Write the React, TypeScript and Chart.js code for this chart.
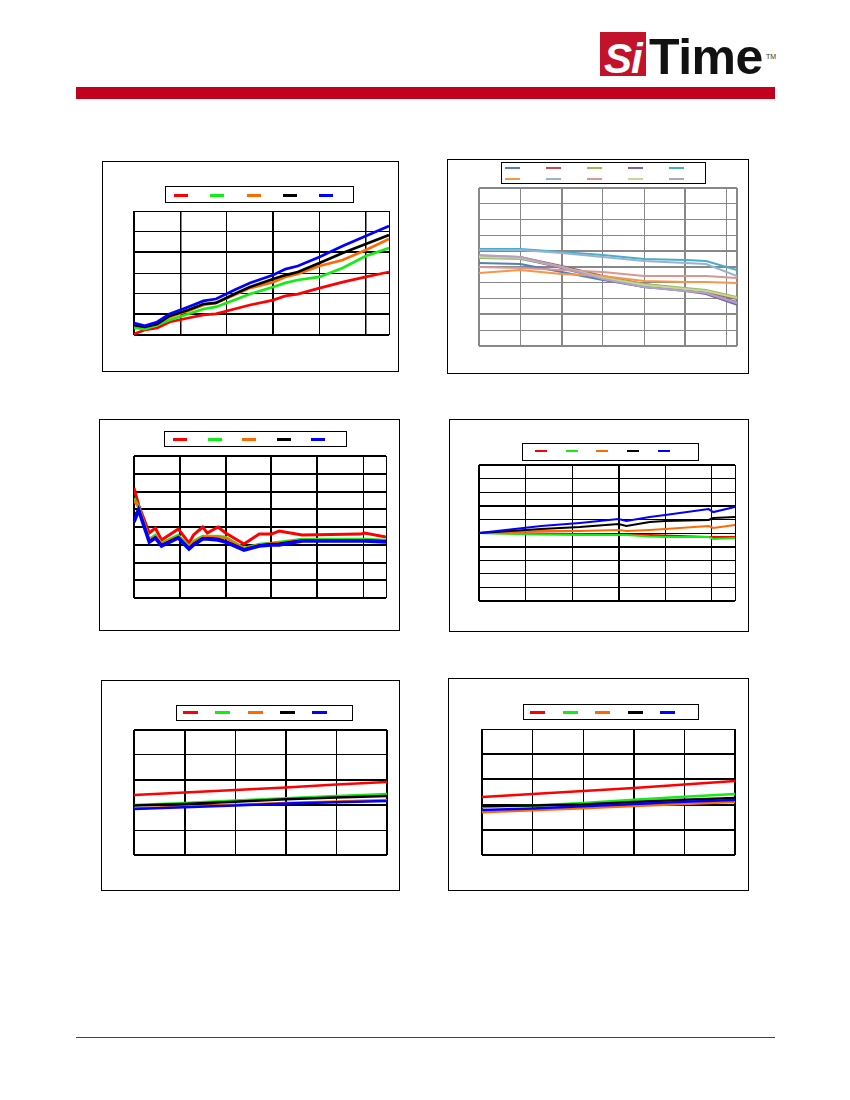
import { useEffect, useRef } from "react"
import { Chart, registerables } from "chart.js"

Chart.register(...registerables)

// ---- chart 1 (top left)
const tempA = [-40, -33, -25, -17, -5, 5, 13, 25, 35, 50, 58, 66, 80, 95, 110, 125]
const a1Red = [0.5, 2.4, 3.4, 6.3, 8.2, 9.7, 10.2, 12.6, 14.5, 16.9, 18.9, 19.8, 22.7, 25.6, 28.1, 30.5]
const a1Green = [3.4, 2.9, 4.8, 7.3, 10.2, 12.6, 13.6, 16.9, 19.8, 23.2, 25.2, 26.6, 28.1, 32.4, 38.2, 42.1]
const a1Orange = [4.4, 3.9, 5.8, 8.7, 11.6, 14.5, 15.5, 19.4, 22.7, 25.6, 28.1, 29.5, 33.4, 36.3, 41.1, 46.5]
const a1Black = [4.8, 3.9, 5.3, 9.2, 12.1, 15, 15.5, 19.8, 23.2, 27.1, 29, 30.5, 34.8, 39.7, 44, 48.4]
const a1Blue = [5.8, 4.4, 6.3, 10.2, 13.6, 16.5, 17.4, 21.8, 25.2, 29, 31.9, 33.4, 37.7, 43.1, 47.9, 52.7]
const a1XTicks = [-40, -10, 20, 50, 80, 110, 125]
const a1YTicks = [0, 10, 20, 30, 40, 50, 60]

// ---- chart 2 (top right), ten parts
const tempB = [-40, -20, 0, 20, 40, 60, 70, 85]
const b2Blue = [2.5, 1.9, -3.2, -8.2, -12.7, -14.6, -16.5, -22.2]
const b2Red = [7, 6.3, 0.6, -5.7, -10.8, -13.9, -15.8, -20.3]
const b2Green = [5.7, 5.1, 0, -6.3, -10.8, -13.3, -14.6, -19]
const b2Purple = [7, 5.7, -0.6, -7.6, -12.7, -15.2, -17.1, -24]
const b2Aqua = [11.4, 11.4, 9.5, 7.6, 5.1, 4.4, 3.8, -1.9]
const b2Orange = [-3.8, -1.9, -4.4, -5.7, -8.9, -9.5, -9.5, -10.1]
const b2LightBlue = [10.8, 10.8, 8.9, 6.3, 3.8, 2.5, 1.9, -5.7]
const b2Pink = [0, -0.6, -1.9, -3.2, -5.7, -5.7, -5.7, -7]
const b2LightGreen = [6.3, 5.7, 0, -7, -11.4, -13.9, -15.2, -19.6]
const b2LightPurple = [7.6, 6.3, 0, -7.6, -12.7, -15.2, -16.5, -22.8]
const b2XTicks = [-40, -20, 0, 20, 40, 60, 80, 85]
const b2YTicks = [-50, -40, -30, -20, -10, 0, 10, 20, 30, 40, 50]

// ---- chart 3 (middle left)
const tempC = [-40, -37, -30, -26, -22, -11, -4, -1, 5, 8, 15, 20, 32, 42, 50, 55, 70, 108, 111, 125]
const c3Red = [62, 52.4, 36.6, 39.4, 32.7, 38.9, 31, 35.5, 40, 36.6, 40, 36.6, 30.4, 36, 36, 37.7, 35.5, 36, 36.6, 34.4]
const c3Green = [56.3, 51.8, 33.2, 35.5, 31, 35.5, 29.3, 32.1, 34.9, 34.9, 34.9, 34.4, 28.2, 30.4, 31, 31.5, 33.2, 33.2, 33.2, 32.7]
const c3Orange = [55, 51, 32.5, 34.8, 30.5, 34.8, 28.8, 31.5, 34.2, 34.2, 34.2, 33.8, 27.8, 30, 30.8, 31.2, 32.6, 32.6, 32.6, 32.2]
const c3Black = [46, 49.8, 32, 34.2, 29.8, 34.2, 28, 30.4, 33.6, 33.6, 33.2, 32, 27.4, 29.6, 30.4, 30.6, 32.4, 32.6, 32.6, 32]
const c3Blue = [42.8, 49.6, 31.5, 33.8, 29.3, 33.8, 27.6, 29.9, 33.2, 33.2, 32.7, 31.5, 27, 29.3, 29.9, 29.9, 32.1, 32.1, 32.1, 31.5]
const c3XTicks = [-40, -10, 20, 50, 80, 110, 125]
const c3YTicks = [0, 10, 20, 30, 40, 50, 60, 70, 80]

// ---- chart 4 (middle right)
const tempD = [-40, 0, 25, 50, 55, 70, 80, 108, 111, 125]
const d4Red = [0, -0.4, -0.7, -1.1, -1.1, -1.5, -1.8, -2.9, -2.9, -2.9]
const d4Green = [0, -1.1, -1.5, -1.5, -1.5, -2.6, -2.9, -2.9, -4.4, -3.7]
const d4Orange = [0, 1.5, 1.5, 2.2, 1.5, 2.2, 2.9, 5.1, 3.7, 5.9]
const d4Black = [0, 2.9, 4.4, 6.6, 5.1, 8.1, 8.8, 9.6, 11, 11.8]
const d4Blue = [0, 5.1, 7.4, 10.3, 8.8, 11.8, 13.2, 17.6, 15.4, 19.1]
const d4XTicks = [-40, -10, 20, 50, 80, 110, 125]
const d4YTicks = [-50, -40, -30, -20, -10, 0, 10, 20, 30, 40, 50]

// ---- chart 5 (bottom left)
const sweepE = [0, 20, 40, 60, 80, 100]
const e5Red = [24, 25, 26, 27, 28.2, 29.2]
const e5Green = [20, 20.8, 21.8, 22.7, 23.6, 24.4]
const e5Orange = [18.6, 19.4, 20.1, 20.8, 21.4, 22]
const e5Black = [19.8, 20.4, 21.3, 22.3, 23, 23.6]
const e5Blue = [18.4, 19.1, 19.8, 20.6, 21.1, 21.6]

// ---- chart 6 (bottom right)
const sweepF = [0, 20, 40, 60, 80, 100]
const f6Red = [23, 24.2, 25.4, 26.6, 28, 29.4]
const f6Green = [19, 19.6, 20.6, 21.9, 23.1, 24.2]
const f6Orange = [17, 17.8, 18.6, 19.4, 20.2, 21]
const f6Black = [19.4, 19.6, 20, 21, 21.9, 22.6]
const f6Blue = [17.9, 18.5, 19.3, 20.2, 21.1, 21.8]
const sweepTicks = [0, 20, 40, 60, 80, 100]
const levelTicks = [0, 10, 20, 30, 40, 50]

const RED = "#ff0000"
const GREEN = "#11ee11"
const ORANGE = "#ff6a00"
const BLACK = "#000000"
const BLUE = "#0000ff"

const PAD = 4

type Series = { values: number[]; color: string; width?: number }
type Rect = [number, number, number, number]

interface LegendSpec {
  box: Rect
  first: number
  step: number
  swatch: number
  rowY: number[]
  perRow: number
  thick: number
}

interface PanelProps {
  frame: Rect
  plot: Rect
  xs: number[]
  series: Series[]
  xTicks: number[]
  yTicks: number[]
  xGrid: number[]
  yGrid: number[]
  gridColor: string
  lineWidth: number
  legend: LegendSpec
}

function Panel({ frame, plot, xs, series, xTicks, yTicks, xGrid, yGrid, gridColor, lineWidth, legend }: PanelProps) {
  const canvasRef = useRef<HTMLCanvasElement>(null)

  useEffect(() => {
    if (!canvasRef.current) return
    const chart = new Chart(canvasRef.current, {
      type: "line",
      data: {
        datasets: series.map((s, i) => ({
          data: xs.map((x, j) => ({ x, y: s.values[j] })),
          borderColor: s.color,
          borderWidth: s.width ?? lineWidth,
          pointRadius: 0,
          tension: 0,
          fill: false,
          order: series.length - i,
        })),
      },
      options: {
        animation: false,
        responsive: true,
        maintainAspectRatio: false,
        layout: { padding: PAD },
        plugins: { legend: { display: false }, tooltip: { enabled: false } },
        scales: {
          x: {
            type: "linear",
            min: xTicks[0],
            max: xTicks[xTicks.length - 1],
            afterBuildTicks: (axis: any) => {
              axis.ticks = xTicks.map((value) => ({ value }))
            },
            ticks: { display: false },
            border: { display: false },
            grid: { color: gridColor, drawTicks: false, lineWidth: (c: any) => xGrid[c.index] ?? 1 },
          },
          y: {
            type: "linear",
            min: yTicks[0],
            max: yTicks[yTicks.length - 1],
            afterBuildTicks: (axis: any) => {
              axis.ticks = yTicks.map((value) => ({ value }))
            },
            ticks: { display: false },
            border: { display: false },
            grid: { color: gridColor, drawTicks: false, lineWidth: (c: any) => yGrid[c.index] ?? 1 },
          },
        },
      },
    })
    return () => chart.destroy()
  }, [])

  const [fl, ft, fw, fh] = frame
  const [pl, pt, pw, ph] = plot
  const [ll, lt, lw, lh] = legend.box

  return (
    <>
      <div style={{ position: "absolute", left: fl, top: ft, width: fw - 2, height: fh - 2, border: "1px solid #000" }} />
      <div style={{ position: "absolute", left: pl - PAD, top: pt - PAD, width: pw + PAD * 2, height: ph + PAD * 2 }}>
        <canvas ref={canvasRef} />
      </div>
      <div style={{ position: "absolute", left: ll, top: lt, width: lw - 2, height: lh - 2, border: "1px solid #000", background: "#fff" }}>
        {series.map((s, i) => {
          const row = Math.floor(i / legend.perRow)
          const col = i % legend.perRow
          return (
            <div
              key={i}
              style={{
                position: "absolute",
                left: legend.first + col * legend.step,
                top: legend.rowY[row] - legend.thick / 2,
                width: legend.swatch,
                height: legend.thick,
                background: s.color,
              }}
            />
          )
        })}
      </div>
    </>
  )
}

export default function App() {
  return (
    <div
      style={{
        position: "absolute",
        left: 0,
        top: 0,
        width: 850,
        height: 1100,
        overflow: "hidden",
        background: "#fff",
        fontFamily: "'Liberation Sans', Arial, sans-serif",
      }}
    >
      {/* logo */}
      <div style={{ position: "absolute", left: 600, top: 32, width: 46, height: 44, background: "#c3132b" }} />
      <div
        style={{
          position: "absolute",
          left: 604,
          top: 38,
          fontSize: 42,
          lineHeight: "42px",
          fontWeight: 700,
          fontStyle: "italic",
          color: "#fff",
          letterSpacing: -1,
        }}
      >
        Si
      </div>
      <div style={{ position: "absolute", left: 649, top: 32, fontSize: 50, lineHeight: "50px", fontWeight: 700, color: "#111", letterSpacing: -0.5 }}>
        Time
      </div>
      <div style={{ position: "absolute", left: 766, top: 53, fontSize: 7, lineHeight: "7px", color: "#333" }}>TM</div>
      <div style={{ position: "absolute", left: 76, top: 87, width: 699, height: 12, background: "#c4001f" }} />
      <div style={{ position: "absolute", left: 76, top: 1037, width: 699, height: 1, background: "#b0102a" }} />

      <Panel
        frame={[102, 161, 297, 211]}
        plot={[134, 211, 255, 124]}
        xs={tempA}
        series={[
          { values: a1Red, color: RED },
          { values: a1Green, color: GREEN },
          { values: a1Orange, color: ORANGE },
          { values: a1Black, color: BLACK },
          { values: a1Blue, color: BLUE },
        ]}
        xTicks={a1XTicks}
        yTicks={a1YTicks}
        xGrid={[2, 1.5, 1, 2, 1, 1.5, 1]}
        yGrid={[2, 2, 1, 1, 2, 1, 1]}
        gridColor="#000"
        lineWidth={2.7}
        legend={{ box: [165, 186, 189, 17], first: 8, step: 36.3, swatch: 14, rowY: [8], perRow: 5, thick: 3 }}
      />

      <Panel
        frame={[447, 159, 302, 215]}
        plot={[479, 188, 258, 158]}
        xs={tempB}
        series={[
          { values: b2Blue, color: "#4F81BD" },
          { values: b2Red, color: "#C0504D" },
          { values: b2Green, color: "#9BBB59" },
          { values: b2Purple, color: "#8064A2" },
          { values: b2Aqua, color: "#4BACC6" },
          { values: b2Orange, color: "#F79646" },
          { values: b2LightBlue, color: "#95B3D7" },
          { values: b2Pink, color: "#D99694" },
          { values: b2LightGreen, color: "#C3D69B" },
          { values: b2LightPurple, color: "#B3A2C7" },
        ]}
        xTicks={b2XTicks}
        yTicks={b2YTicks}
        xGrid={[2, 1, 2, 1, 1, 2, 1, 2]}
        yGrid={[2, 1, 2, 1, 1, 2, 2, 1, 1, 1, 2]}
        gridColor="#888"
        lineWidth={2}
        legend={{ box: [501, 162, 205, 22], first: 3, step: 41, swatch: 15, rowY: [5, 16], perRow: 5, thick: 2 }}
      />

      <Panel
        frame={[99, 419, 301, 212]}
        plot={[134, 456, 252, 142]}
        xs={tempC}
        series={[
          { values: c3Red, color: RED, width: 3 },
          { values: c3Green, color: GREEN },
          { values: c3Orange, color: ORANGE },
          { values: c3Black, color: BLACK },
          { values: c3Blue, color: BLUE, width: 3.5 },
        ]}
        xTicks={c3XTicks}
        yTicks={c3YTicks}
        xGrid={[2, 2, 2, 2, 2, 1, 1]}
        yGrid={[2, 2, 2, 2, 2, 2, 2, 2, 2]}
        gridColor="#000"
        lineWidth={2.5}
        legend={{ box: [164, 431, 183, 16], first: 8, step: 34.5, swatch: 14, rowY: [7], perRow: 5, thick: 3 }}
      />

      <Panel
        frame={[449, 419, 300, 213]}
        plot={[479, 465, 256, 136]}
        xs={tempD}
        series={[
          { values: d4Red, color: RED },
          { values: d4Green, color: GREEN },
          { values: d4Orange, color: ORANGE },
          { values: d4Black, color: BLACK },
          { values: d4Blue, color: BLUE },
        ]}
        xTicks={d4XTicks}
        yTicks={d4YTicks}
        xGrid={[2, 1, 1, 2, 1, 1, 1]}
        yGrid={[2, 1, 1, 1, 2, 1, 1, 2, 1, 1, 2]}
        gridColor="#000"
        lineWidth={2}
        legend={{ box: [522, 443, 177, 18], first: 12, step: 30.7, swatch: 12, rowY: [7], perRow: 5, thick: 2 }}
      />

      <Panel
        frame={[101, 680, 299, 211]}
        plot={[134, 730, 253, 125]}
        xs={sweepE}
        series={[
          { values: e5Red, color: RED },
          { values: e5Green, color: GREEN },
          { values: e5Orange, color: ORANGE },
          { values: e5Black, color: BLACK },
          { values: e5Blue, color: BLUE },
        ]}
        xTicks={sweepTicks}
        yTicks={levelTicks}
        xGrid={[2, 2, 1, 2, 1, 2]}
        yGrid={[2, 1, 2, 2, 1, 2]}
        gridColor="#000"
        lineWidth={2.5}
        legend={{ box: [176, 705, 177, 16], first: 6, step: 32.3, swatch: 15, rowY: [6], perRow: 5, thick: 3 }}
      />

      <Panel
        frame={[448, 678, 301, 213]}
        plot={[482, 729, 253, 126]}
        xs={sweepF}
        series={[
          { values: f6Red, color: RED },
          { values: f6Green, color: GREEN },
          { values: f6Orange, color: ORANGE },
          { values: f6Black, color: BLACK },
          { values: f6Blue, color: BLUE },
        ]}
        xTicks={sweepTicks}
        yTicks={levelTicks}
        xGrid={[2, 1, 1, 2, 1, 2]}
        yGrid={[2, 2, 2, 2, 2, 1]}
        gridColor="#000"
        lineWidth={2.5}
        legend={{ box: [523, 704, 176, 16], first: 6, step: 32.5, swatch: 15, rowY: [7], perRow: 5, thick: 3 }}
      />
    </div>
  )
}
